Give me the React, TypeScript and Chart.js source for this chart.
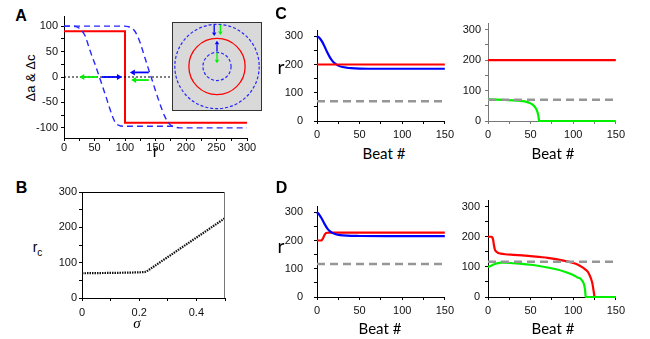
import React, { useEffect, useRef } from 'react';
import { Chart, registerables } from 'chart.js';

Chart.register(...registerables);

// ---------------- Panel A data ----------------
const aStepX = [0, 100, 100, 300];
const aStepY = [90, 90, -90, -90];
const aCurve1X = [0, 15, 20, 25, 30, 35, 40, 45, 50, 55, 58, 60, 65, 70, 75, 80, 85, 90, 100, 185];
const aCurve1Y = [100, 100, 99, 96, 90, 80, 62, 44, 28, 11, 0, -7, -25, -43, -62, -79, -91, -95, -97, -97];
const aCurve2X = [0, 100, 105, 110, 115, 120, 125, 130, 135, 140, 145, 150, 155, 160, 165, 170, 175, 180, 190, 300];
const aCurve2Y = [100, 100, 99, 97, 92, 82, 67, 48, 29, 10, -8, -27, -45, -62, -77, -88, -95, -98, -100, -100];
const aZeroX = [0, 300];
const aZeroY = [0, 0];
const aArrowStart = [[55, 0], [62, 0], [139, 9], [139, -6]];
const aArrowEnd = [[25, 0], [95, 0], [108, 9], [110, -6]];
const aArrowKind = ['g', 'b', 'b', 'g'];
const aXTicks = [0, 25, 50, 75, 100, 125, 150, 175, 200, 225, 250, 275, 300];
const aXLabels = [0, 50, 100, 150, 200, 250, 300];
const aYTicks = [-100, -75, -50, -25, 0, 25, 50, 75, 100];
const aYLabels = [-100, -50, 0, 50, 100];

// inset of panel A (radii in r units)
const insetRings = [150, 100, 50];
const insetRingKind = ['b', 'r', 'b'];
const insetArrowStart = [[-10, 150], [12, 150], [0, 54], [0, 50]];
const insetArrowEnd = [[-10, 110], [12, 113], [0, 93], [0, 12]];
const insetArrowKind = ['b', 'g', 'b', 'g'];

// ---------------- Panel B data ----------------
const bSigma = [
  0, 0.01, 0.02, 0.03, 0.04, 0.05, 0.06, 0.07, 0.08, 0.09,
  0.1, 0.11, 0.12, 0.13, 0.14, 0.15, 0.16, 0.17, 0.18, 0.19,
  0.2, 0.21, 0.22, 0.23, 0.24, 0.25, 0.26, 0.27, 0.28, 0.29,
  0.3, 0.31, 0.32, 0.33, 0.34, 0.35, 0.36, 0.37, 0.38, 0.39,
  0.4, 0.41, 0.42, 0.43, 0.44, 0.45, 0.46, 0.47, 0.48, 0.49, 0.5,
];
const bRc = [
  70, 70, 70.2, 70.3, 70.4, 70.5, 70.6, 70.7, 70.8, 70.9,
  71, 71.1, 71.2, 71.3, 71.5, 71.6, 71.8, 72, 72.2, 72.4,
  72.7, 73, 73.5, 77.5, 83, 88.5, 94, 99.5, 105, 110.5,
  116, 121.5, 127, 132.5, 138, 143.5, 149, 154.5, 160, 165.5,
  171, 176.5, 182, 187.5, 193, 198.5, 204, 209.5, 215, 220.5, 226,
];
const bXTicks = [0, 0.1, 0.2, 0.3, 0.4, 0.5];
const bXLabels = [0, 0.2, 0.4];
const bYTicks = [0, 50, 100, 150, 200, 250, 300];
const bYLabels = [0, 100, 200, 300];

// ---------------- Panels C & D data ----------------
const beatTicks = [0, 25, 50, 75, 100, 125, 150];
const beatLabels = [0, 50, 100, 150];
const rTicks = [0, 50, 100, 150, 200, 250, 300];
const rLabels = [0, 100, 200, 300];

const cLeftRedX = [0, 150];
const cLeftRedY = [200, 200];
const cLeftBlueX = [0, 3, 6, 9, 12, 15, 18, 21, 25, 30, 35, 40, 50, 60, 80, 150];
const cLeftBlueY = [300, 294, 281, 263, 243, 226, 213, 204, 196, 191, 188.5, 187, 185.5, 185, 185, 185];
const cLeftGrayX = [0, 150];
const cLeftGrayY = [70, 70];

const cRightRedX = [0, 150];
const cRightRedY = [200, 200];
const cRightGreenX = [0, 10, 20, 30, 35, 40, 45, 50, 53, 55, 57, 58.5, 59.5, 60, 150];
const cRightGreenY = [72, 70, 69, 68, 67, 65.5, 63, 58, 52, 46, 37, 25, 10, 0, 0];
const cRightGrayX = [0, 150];
const cRightGrayY = [70, 70];

const dLeftRedX = [0, 4, 5.5, 7, 8.5, 10, 12, 15, 150];
const dLeftRedY = [200, 200, 201, 207, 218, 225, 227.5, 228, 228];
const dLeftBlueX = [0, 3, 6, 9, 12, 15, 18, 22, 27, 35, 50, 80, 150];
const dLeftBlueY = [300, 290, 275, 258, 243, 233, 227, 222, 219, 217, 216, 215.5, 215.5];
const dLeftGrayX = [0, 150];
const dLeftGrayY = [117, 117];

const dRightRedX = [0, 4, 5, 6, 7, 8, 10, 12, 15, 20, 30, 40, 50, 60, 70, 80, 90, 100, 105, 110, 114, 117, 119, 121, 122.5, 123.5, 124.5, 125, 150];
const dRightRedY = [200, 200, 198, 190, 172, 158, 150, 146, 144, 142, 140, 138, 136, 133, 130, 126, 120, 113, 108, 100, 92, 84, 74, 60, 45, 28, 10, 0, 0];
const dRightGreenX = [0, 3, 6, 10, 15, 20, 30, 40, 50, 60, 70, 80, 90, 95, 100, 105, 108, 110, 112, 113, 114, 114.6, 150];
const dRightGreenY = [100, 103, 107, 111, 114, 114, 112, 110, 107, 103, 98, 92, 84, 79, 73, 65, 62, 56, 47, 38, 22, 0, 0];
const dRightGrayX = [0, 150];
const dRightGrayY = [117, 117];

// ---------------- styling ----------------
const RED = 'rgb(255,0,0)';
const BLUE = 'rgb(0,0,255)';
const DBLUE = 'rgb(40,40,255)';
const GREEN = 'rgb(0,240,0)';
const GRAY = 'rgb(150,150,150)';
const TICK_FONT = '"Liberation Sans", Arial, sans-serif';
const kindColor: Record<string, string> = { r: RED, b: BLUE, g: GREEN };

const line = (xs: number[], ys: number[], color: string, width: number, extra: any = {}) => ({
  data: xs.map((x, i) => ({ x, y: ys[i] })),
  borderColor: color,
  backgroundColor: color,
  borderWidth: width,
  pointRadius: 0,
  pointHoverRadius: 0,
  fill: false,
  clip: false,
  ...extra,
});

function axis(o: {
  min: number; max: number; ticks: number[]; labels: number[]; fit: number; pad: number;
  horizontal: boolean; color?: string; title?: any;
}) {
  const color = o.color || '#000';
  return {
    type: 'linear',
    position: o.horizontal ? 'bottom' : 'left',
    min: o.min,
    max: o.max,
    afterBuildTicks: (s: any) => { s.ticks = o.ticks.map((v) => ({ value: v })); },
    afterFit: (s: any) => { if (o.horizontal) s.height = o.fit; else s.width = o.fit; },
    ticks: {
      autoSkip: false, maxRotation: 0, minRotation: 0, padding: o.pad, color: '#111',
      font: { family: TICK_FONT, size: 11 },
      callback: (v: number) => (o.labels.includes(v) ? String(v) : ''),
    },
    title: o.title || { display: false },
    grid: { display: true, drawOnChartArea: false, drawTicks: true, tickLength: 3, color, tickColor: color, lineWidth: 1 },
    border: { display: true, color, width: 1 },
  };
}

function drawArrow(ctx: CanvasRenderingContext2D, x0: number, y0: number, x1: number, y1: number,
  color: string, width: number, head: number, half: number) {
  ctx.save();
  ctx.strokeStyle = color; ctx.fillStyle = color; ctx.lineWidth = width; ctx.setLineDash([]);
  const ang = Math.atan2(y1 - y0, x1 - x0);
  const bx = x1 - head * Math.cos(ang);
  const by = y1 - head * Math.sin(ang);
  ctx.beginPath(); ctx.moveTo(x0, y0); ctx.lineTo(bx, by); ctx.stroke();
  ctx.beginPath();
  ctx.moveTo(x1, y1);
  ctx.lineTo(bx + half * Math.sin(ang), by - half * Math.cos(ang));
  ctx.lineTo(bx - half * Math.sin(ang), by + half * Math.cos(ang));
  ctx.closePath(); ctx.fill();
  ctx.restore();
}

const baseOptions = (scales: any, layoutPad: any) => ({
  responsive: false,
  maintainAspectRatio: false,
  animation: false,
  devicePixelRatio: 1,
  events: [],
  layout: { padding: layoutPad },
  plugins: { legend: { display: false }, tooltip: { enabled: false }, title: { display: false } },
  elements: { line: { tension: 0 } },
  scales,
});

// ---------------- chart configs ----------------
const arrowsPluginA = {
  id: 'arrowsA',
  afterDatasetsDraw(chart: any) {
    const { ctx, scales } = chart;
    aArrowStart.forEach((s, i) => {
      const e = aArrowEnd[i];
      drawArrow(ctx, scales.x.getPixelForValue(s[0]), scales.y.getPixelForValue(s[1]),
        scales.x.getPixelForValue(e[0]), scales.y.getPixelForValue(e[1]),
        kindColor[aArrowKind[i]], 1.8, 5, 3);
    });
  },
};

const configA = () => ({
  type: 'line',
  data: {
    datasets: [
      line(aZeroX, aZeroY, '#000', 1, { borderDash: [2, 2] }),
      line(aCurve1X, aCurve1Y, DBLUE, 1.4, { borderDash: [6, 4], cubicInterpolationMode: 'monotone' }),
      line(aCurve2X, aCurve2Y, DBLUE, 1.4, { borderDash: [6, 4], cubicInterpolationMode: 'monotone' }),
      line(aStepX, aStepY, RED, 2),
    ],
  },
  options: baseOptions({
    x: axis({
      min: 0, max: 300, ticks: aXTicks, labels: aXLabels, fit: 26, pad: 0, horizontal: true,
      title: { display: true, text: 'r', color: '#000', font: { family: TICK_FONT, size: 16 }, padding: { top: 0, bottom: 1.5 } },
    }),
    y: axis({ min: -120, max: 120, ticks: aYTicks, labels: aYLabels, fit: 34, pad: 3, horizontal: false }),
  }, { top: 12, right: 14, left: 0, bottom: 0 }),
  plugins: [arrowsPluginA],
});

const insetPlugin = {
  id: 'inset',
  beforeDatasetsDraw(chart: any) {
    const { ctx, scales, chartArea } = chart;
    const cx = scales.x.getPixelForValue(0);
    const cy = scales.y.getPixelForValue(0);
    ctx.save();
    ctx.fillStyle = '#d9d9d9';
    ctx.fillRect(chartArea.left, chartArea.top, chartArea.right - chartArea.left, chartArea.bottom - chartArea.top);
    insetRings.forEach((r, i) => {
      const rad = Math.abs(scales.x.getPixelForValue(r) - cx);
      ctx.beginPath();
      ctx.arc(cx, cy, rad, 0, Math.PI * 2);
      ctx.lineWidth = insetRingKind[i] === 'r' ? 1.3 : 1.2;
      ctx.strokeStyle = insetRingKind[i] === 'r' ? RED : DBLUE;
      ctx.setLineDash(insetRingKind[i] === 'r' ? [] : [3, 2]);
      ctx.stroke();
    });
    ctx.setLineDash([]);
    insetArrowStart.forEach((s, i) => {
      const e = insetArrowEnd[i];
      drawArrow(ctx, scales.x.getPixelForValue(s[0]), scales.y.getPixelForValue(s[1]),
        scales.x.getPixelForValue(e[0]), scales.y.getPixelForValue(e[1]),
        kindColor[insetArrowKind[i]], 1.3, 3.5, 2.2);
    });
    ctx.strokeStyle = '#333';
    ctx.lineWidth = 1;
    ctx.strokeRect(chartArea.left + 0.5, chartArea.top + 0.5, chartArea.right - chartArea.left - 1, chartArea.bottom - chartArea.top - 1);
    ctx.restore();
  },
};

const configInset = () => ({
  type: 'line',
  data: { datasets: [] },
  options: baseOptions({
    x: { type: 'linear', min: -160, max: 160, display: false },
    y: { type: 'linear', min: -160, max: 160, display: false },
  }, 0),
  plugins: [insetPlugin],
});

const framePluginB = {
  id: 'frameB',
  afterDraw(chart: any) {
    const { ctx, chartArea } = chart;
    ctx.save();
    ctx.lineWidth = 1;
    ctx.strokeStyle = '#000';
    ctx.beginPath();
    ctx.moveTo(chartArea.left, Math.round(chartArea.top) + 0.5);
    ctx.lineTo(chartArea.right, Math.round(chartArea.top) + 0.5);
    ctx.stroke();
    ctx.strokeStyle = '#777';
    ctx.beginPath();
    ctx.moveTo(Math.round(chartArea.right) - 0.5, chartArea.top);
    ctx.lineTo(Math.round(chartArea.right) - 0.5, chartArea.bottom);
    ctx.stroke();
    ctx.restore();
  },
};

const configB = () => ({
  type: 'line',
  data: {
    datasets: [line(bSigma, bRc, '#111', 2.2, { borderDash: [1.5, 1] })],
  },
  options: baseOptions({
    x: axis({ min: 0, max: 0.5, ticks: bXTicks, labels: bXLabels, fit: 22, pad: 5, horizontal: true }),
    y: axis({ min: 0, max: 300, ticks: bYTicks, labels: bYLabels, fit: 34, pad: 2, horizontal: false }),
  }, { top: 10, right: 12, left: 0, bottom: 0 }),
  plugins: [framePluginB],
});

const beatConfig = (datasets: any[], yPad: number, axisColor?: string) => () => ({
  type: 'line',
  data: { datasets },
  options: baseOptions({
    x: axis({ min: 0, max: 150, ticks: beatTicks, labels: beatLabels, fit: 22, pad: 4, horizontal: true, color: axisColor }),
    y: axis({ min: 0, max: 320, ticks: rTicks, labels: rLabels, fit: 36, pad: yPad, horizontal: false, color: axisColor }),
  }, { top: 10, right: 12, left: 0, bottom: 0 }),
});

const grayDash = { borderDash: [8, 5] };
const mono = { cubicInterpolationMode: 'monotone' };

const configCLeft = beatConfig([
  line(cLeftGrayX, cLeftGrayY, GRAY, 2.5, grayDash),
  line(cLeftRedX, cLeftRedY, RED, 2.2),
  line(cLeftBlueX, cLeftBlueY, BLUE, 2.2, mono),
], 11);

const configCRight = beatConfig([
  line(cRightGrayX, cRightGrayY, GRAY, 2.5, grayDash),
  line(cRightRedX, cRightRedY, RED, 2.2),
  line(cRightGreenX, cRightGreenY, GREEN, 2.2, mono),
], 4, '#777');

const configDLeft = beatConfig([
  line(dLeftGrayX, dLeftGrayY, GRAY, 2.5, grayDash),
  line(dLeftBlueX, dLeftBlueY, BLUE, 2.2, mono),
  line(dLeftRedX, dLeftRedY, RED, 2.2, mono),
], 11);

const configDRight = beatConfig([
  line(dRightGrayX, dRightGrayY, GRAY, 2.5, grayDash),
  line(dRightGreenX, dRightGreenY, GREEN, 2.2, mono),
  line(dRightRedX, dRightRedY, RED, 2.2, mono),
], 5);

// ---------------- components ----------------
function ChartBox({ left, top, width, height, config, z = 0 }: { left: number; top: number; width: number; height: number; config: () => any; z?: number }) {
  const ref = useRef<HTMLCanvasElement>(null);
  useEffect(() => {
    const chart = new Chart(ref.current as HTMLCanvasElement, config() as any);
    return () => chart.destroy();
  }, []);
  return (
    <canvas
      ref={ref}
      width={width}
      height={height}
      style={{ position: 'absolute', left, top, width, height, zIndex: z }}
    />
  );
}

function Txt({ x, y, children, style = {}, rotate = 0 }: { x: number; y: number; children: any; style?: any; rotate?: number }) {
  return (
    <div
      style={{
        position: 'absolute', left: x, top: y, lineHeight: 1, whiteSpace: 'nowrap', color: '#000',
        background: 'transparent', pointerEvents: 'none', zIndex: 0,
        transform: `translate(-50%, -50%) rotate(${rotate}deg)`,
        ...style,
      }}
    >
      {children}
    </div>
  );
}

const letterStyle = { fontFamily: TICK_FONT, fontWeight: 'bold', fontSize: 16 };
const beatStyle = { fontFamily: 'Lato, "Open Sans", sans-serif', fontSize: 15 };
const rStyle = { fontFamily: 'Lato, "Open Sans", sans-serif', fontSize: 19 };

export default function App() {
  return (
    <div style={{ position: 'fixed', left: 0, top: 0, width: 650, height: 339, background: '#fff' }}>
      <ChartBox left={48} top={182} width={189} height={138} config={configB} />
      <ChartBox left={281} top={13} width={177} height={130} config={configCLeft} />
      <ChartBox left={452} top={13} width={177} height={130} config={configCRight} />
      <ChartBox left={281} top={189} width={177} height={130} config={configDLeft} />
      <ChartBox left={452} top={189} width={177} height={130} config={configDRight} />

      <Txt x={21} y={15.5} style={letterStyle}>A</Txt>
      <Txt x={21.5} y={188} style={letterStyle}>B</Txt>
      <Txt x={281} y={14} style={letterStyle}>C</Txt>
      <Txt x={281.5} y={188} style={letterStyle}>D</Txt>

      <Txt x={29.5} y={78} rotate={-90} style={{ fontFamily: TICK_FONT, fontSize: 13 }}>Δa &amp; Δc</Txt>

      <Txt x={37.5} y={247} style={{ fontFamily: TICK_FONT, fontSize: 14 }}>
        r<span style={{ fontSize: 10, position: 'relative', top: 4 }}>c</span>
      </Txt>
      <Txt x={137} y={322.5} style={{ fontFamily: '"Liberation Serif", "DejaVu Serif", serif', fontStyle: 'italic', fontSize: 15 }}>σ</Txt>

      <Txt x={281} y={65.5} style={rStyle}>r</Txt>
      <Txt x={281} y={244.5} style={rStyle}>r</Txt>

      <Txt x={384} y={152.5} style={beatStyle}>Beat #</Txt>
      <Txt x={553} y={152.5} style={beatStyle}>Beat #</Txt>
      <Txt x={380} y={327.5} style={beatStyle}>Beat #</Txt>
      <Txt x={553} y={327.5} style={beatStyle}>Beat #</Txt>

      <ChartBox left={30} top={4} width={231} height={160} config={configA} z={2} />
      <ChartBox left={172} top={22} width={90} height={89} config={configInset} z={3} />
    </div>
  );
}
